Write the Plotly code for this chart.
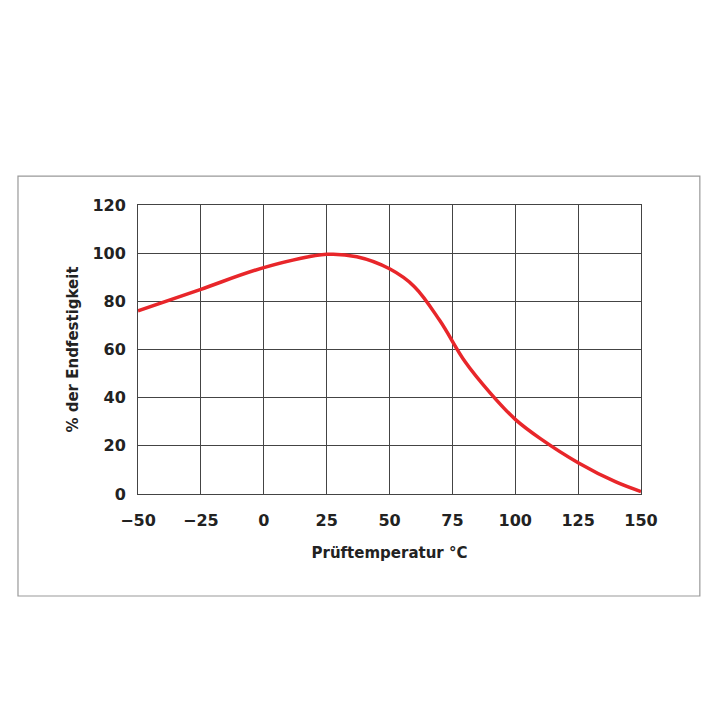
import plotly.graph_objects as go

temps = [-50, -25, 0, 25, 37, 50, 60, 70, 80, 90, 100, 110, 125, 140, 150]
pct = [76, 85, 94, 99.5, 98.5, 93.5, 86, 72, 55, 42, 31, 23, 13, 5, 1]
xticks = [-50, -25, 0, 25, 50, 75, 100, 125, 150]
xlabels = ["\u221250", "\u221225", "0", "25", "50", "75", "100", "125", "150"]
yticks = [0, 20, 40, 60, 80, 100, 120]

fig = go.Figure(go.Scatter(x=temps, y=pct, mode="lines",
                           line=dict(color="#e8262a", width=3.5, shape="spline")))
axfont = dict(family="DejaVu Sans", size=16, color="#222")
fig.update_layout(
    width=720, height=720, paper_bgcolor="white", plot_bgcolor="white",
    margin=dict(l=130, r=87, t=197, b=234), showlegend=False,
    xaxis=dict(range=[-50, 150], tickvals=xticks, ticktext=[f"<b>{t}</b>" for t in xlabels],
               showgrid=True, gridcolor="#444", gridwidth=1.2, zeroline=False,
               showline=True, linecolor="#444", mirror=True, ticks="outside", ticklen=12,
               tickcolor="rgba(0,0,0,0)", tickfont=axfont,
               title=dict(text="<b>Prüftemperatur °C</b>", font=dict(family="DejaVu Sans", size=15, color="#222"), standoff=18)),
    yaxis=dict(range=[0, 120], tickvals=yticks, ticktext=[f"<b>{t}</b>" for t in yticks],
               showgrid=True, gridcolor="#444", gridwidth=1.2, zeroline=False,
               showline=True, linecolor="#444", mirror=True, ticks="outside", ticklen=8,
               tickcolor="rgba(0,0,0,0)", tickfont=axfont,
               title=dict(text="<b>% der Endfestigkeit</b>", font=dict(family="DejaVu Sans", size=15, color="#222"), standoff=10)),
    shapes=[dict(type="rect", xref="paper", yref="paper", x0=-0.2386, x1=1.117, y0=-0.353, y1=1.100,
                 line=dict(color="#999", width=1.2), fillcolor="rgba(0,0,0,0)", layer="below")],
)
fig.write_html("out.html")
